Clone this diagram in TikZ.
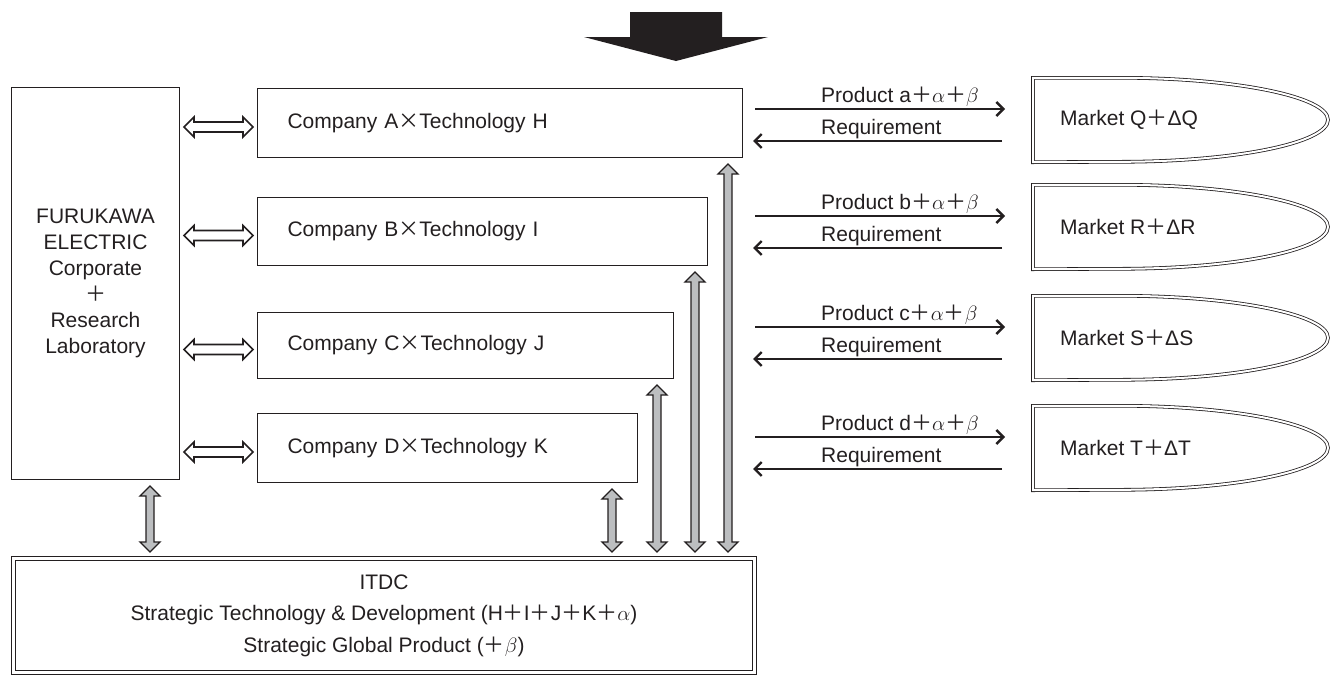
\documentclass[tikz,border=0pt]{standalone}
\usepackage{fontspec}
\setmainfont{Liberation Sans}
\newfontfamily\cjk{Noto Sans CJK JP}
\usetikzlibrary{arrows.meta}
\usetikzlibrary{calc}

\definecolor{ink}{HTML}{231F20}
\definecolor{bargray}{HTML}{BCBEC0}
\newcommand{\plus}{\makebox[1em]{\cjk ＋}}
\newcommand{\cross}{\makebox[1em]{\cjk ×}}

\begin{document}
\begin{tikzpicture}[x=1pt, y=-1pt, ink, font=\fontsize{21}{26}\selectfont,
		box/.style={draw=ink, line width=1pt, anchor=north west},
		company/.style={box, inner xsep=30pt, inner ysep=0pt, align=left},
		dbl/.style={draw=ink, double, double distance=2pt, line width=0.8pt},
		market/.style={anchor=west, minimum height=84pt, inner xsep=27pt, inner ysep=0pt},
		flow/.style={line width=2.4pt, -{Straight Barb[length=7pt, width=14pt]}},
		lbl/.style={anchor=base west, inner sep=0pt},
		hollowarrow/.style={fill=white, draw=ink, line width=1.6pt,
			to path={let \p1=(\tikztostart), \p2=(\tikztotarget) in
				(\x1+4pt,\y2-4pt) -- (\x1+14pt,\y2+6pt) -- (\x1+14pt,\y2+1pt) -- (\x2-14pt,\y2+1pt) -- (\x2-14pt,\y2+6pt) -- (\x2-4pt,\y2-4pt)
				-- (\x2-14pt,\y2-14pt) -- (\x2-14pt,\y2-9pt) -- (\x1+14pt,\y2-9pt) -- (\x1+14pt,\y2-14pt) -- cycle}},
		grayarrow/.style={fill=bargray, draw=ink, line width=1.3pt,
			to path={let \p1=(\tikztostart), \p2=(\tikztotarget) in
				(\x1,\y1-6pt) -- (\x1+10pt,\y1-16pt) -- (\x1+4pt,\y1-16pt) -- (\x1+4pt,\y2+16pt) -- (\x1+10pt,\y2+16pt) -- (\x1,\y2+6pt)
				-- (\x1-10pt,\y2+16pt) -- (\x1-4pt,\y2+16pt) -- (\x1-4pt,\y1-16pt) -- (\x1-10pt,\y1-16pt) -- cycle}}]
	\useasboundingbox (0,0) rectangle (1330,678);

	% big arrow on top
	\fill[ink] (630,12) -- (722,12) -- (722,37) -- (768,37) -- (676,61) -- (584,37) -- (630,37) -- cycle;

	% corporate box and companies
	\node[box, minimum width=168pt, minimum height=392pt, align=center] (furu) at (11,87)
		{FURUKAWA\\ELECTRIC\\Corporate\\\plus\\Research\\Laboratory};
	\foreach \nm/\co/\te/\yy/\tw/\hh in {cA/A/H/88/425/69, cB/B/I/197/390/68, cC/C/J/312/356/66, cD/D/K/413/320/69}
		\node[company, text width=\tw pt, minimum height=\hh pt] (\nm) at (257,\yy) {Company \co\cross Technology \te};

	% ITDC
	\node[dbl, double distance=3pt, line width=1pt, anchor=north west, minimum width=741pt, minimum height=114pt, align=center,
		font=\fontsize{21}{31.5}\selectfont] (itdc) at (13,558)
		{ITDC\\Strategic Technology \& Development (H\plus I\plus J\plus K\plus$\alpha$)\\Strategic Global Product (\plus$\beta$)};

	% markets with product / requirement flows
	\foreach \mk/\pr/\yy [count=\i] in {Q/a/120, R/b/227, S/c/338, T/d/448} {
		\node[market] (m\i) at (1033,\yy) {Market \mk\plus Δ\mk};
		\draw[dbl] (m\i.north west) -- ++(87,0) arc[start angle=90, end angle=-90, x radius=208pt, y radius=42pt]
			-- (m\i.south west) -- cycle;
		\draw[flow] ($(m\i.west)+(-278,-11)$) -- ($(m\i.west)+(-28,-11)$)
			node[lbl, pos=0, xshift=65pt, yshift=7pt] {Product \pr\plus$\alpha$\plus$\beta$};
		\draw[flow] ($(m\i.west)+(-31,21)$) -- ($(m\i.west)+(-280,21)$)
			node[lbl, pos=1, xshift=67pt, yshift=7pt] {Requirement};
	}

	% links to the corporate box
	\foreach \c in {cA,cB,cC,cD}
		\draw[hollowarrow] (furu.east |- \c.west) to (\c.west);

	% links to ITDC
	\coordinate (gF) at ($(furu.south east)+(-30,0)$);
	\draw[grayarrow] (gF) to (gF |- itdc.north);
	\foreach \c/\dx in {cA/15, cB/13, cC/17, cD/26} {
		\coordinate (g) at ($(\c.south east)+(-\dx,0)$);
		\draw[grayarrow] (g) to (g |- itdc.north);
	}
\end{tikzpicture}
\end{document}
